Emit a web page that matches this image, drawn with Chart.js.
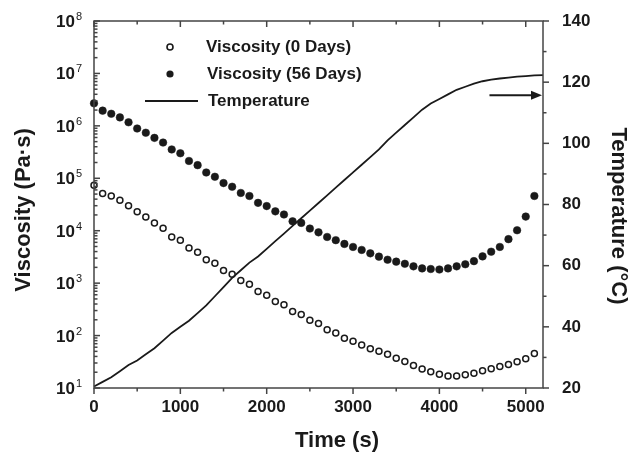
<!DOCTYPE html>
<html><head><meta charset="utf-8">
<script src="https://cdn.jsdelivr.net/npm/chart.js@4.4.0/dist/chart.umd.min.js"></script>
<style>html,body{margin:0;padding:0;background:#fff}</style>
</head><body>
<canvas id="c" width="632" height="460"></canvas>
<script>
const timeViscosity = [0,100,200,300,400,500,600,700,800,900,1000,1100,1200,1300,1400,1500,1600,1700,1800,1900,2000,2100,2200,2300,2400,2500,2600,2700,2800,2900,3000,3100,3200,3300,3400,3500,3600,3700,3800,3900,4000,4100,4200,4300,4400,4500,4600,4700,4800,4900,5000,5100];
const viscosity0Days = [7.4e4,5.1e4,4.6e4,3.8e4,3.0e4,2.3e4,1.82e4,1.41e4,1.12e4,7.6e3,6.6e3,4.7e3,3.9e3,2.8e3,2.4e3,1.74e3,1.48e3,1.12e3,955,692,589,447,389,288,251,195,170,129,112,89,78,66,56,50,44,37,32,27,23,20.4,18.2,17.0,17.0,17.8,19.1,21.4,23.4,25.7,28.2,31.6,36.3,45.7];
const viscosity56Days = [2.69e6,1.95e6,1.70e6,1.45e6,1.17e6,8.9e5,7.4e5,5.9e5,4.8e5,3.55e5,3.0e5,2.14e5,1.78e5,1.29e5,1.07e5,8.1e4,6.9e4,5.25e4,4.6e4,3.4e4,2.95e4,2.34e4,2.04e4,1.51e4,1.41e4,1.10e4,9.3e3,7.6e3,6.6e3,5.6e3,4.9e3,4.3e3,3.7e3,3.2e3,2.8e3,2.57e3,2.34e3,2.09e3,1.91e3,1.86e3,1.82e3,1.91e3,2.09e3,2.29e3,2.63e3,3.24e3,3.98e3,4.9e3,6.9e3,1.02e4,1.86e4,4.6e4];
const timeTemperature = [0,100,200,300,400,500,600,700,800,900,1000,1100,1200,1300,1400,1500,1600,1700,1800,1900,2000,2100,2200,2300,2400,2500,2600,2700,2800,2900,3000,3100,3200,3300,3400,3500,3600,3700,3800,3900,4000,4100,4200,4300,4400,4500,4600,4700,4800,4900,5000,5100,5200];
const temperature = [20.5,22,23.5,25.5,27.5,29,31,33,35.5,38,40,42,44.5,47,50,53,56,58.5,61,63,65.5,68,70.5,73,75.5,78,80.5,83,85.5,88,90.5,93,95.5,98,101,103.5,106,108.5,111,113,114.5,116,117.5,118.5,119.5,120.3,120.8,121.2,121.5,121.8,122,122.2,122.3];

const timeMajorTicks = [0,1000,2000,3000,4000,5000];
const timeMinorTicks = [500,1500,2500,3500,4500];
const viscosityDecades = [1,2,3,4,5,6,7,8];
const tempMajorTicks = [20,40,60,80,100,120,140];
const tempMinorTicks = [30,50,70,90,110,130];
const legendLabels = ['Viscosity (0 Days)','Viscosity (56 Days)','Temperature'];
const axisTitles = {x:'Time (s)', y:'Viscosity (Pa·s)', y2:'Temperature (°C)'};
const arrowFrom = 4580, arrowTo = 5200, arrowTemp = 115.7;

const INK = '#1a1a1a', AXIS = '#444';
const FONT = 'Liberation Sans, Arial, sans-serif';

const pts = (xs, ys) => xs.map((x,i)=>({x, y: ys[i]}));

const axesPlugin = {
  id:'axesPlugin',
  afterDraw(chart){
    const {ctx, chartArea:a, scales} = chart;
    const sx = scales.x, sy = scales.y, sy2 = scales.y2;
    ctx.save();
    ctx.strokeStyle = AXIS; ctx.lineWidth = 1.5;
    ctx.strokeRect(a.left, a.top, a.right-a.left, a.bottom-a.top);
    const line=(x1,y1,x2,y2)=>{ctx.beginPath();ctx.moveTo(x1,y1);ctx.lineTo(x2,y2);ctx.stroke();};
    timeMajorTicks.forEach(v=>{const p=sx.getPixelForValue(v); line(p,a.bottom,p,a.bottom+6); line(p,a.top,p,a.top+6);});
    timeMinorTicks.forEach(v=>{const p=sx.getPixelForValue(v); line(p,a.bottom,p,a.bottom+3.5); line(p,a.top,p,a.top+3.5);});
    viscosityDecades.forEach(e=>{
      const p=sy.getPixelForValue(Math.pow(10,e)); line(a.left,p,a.left+6,p);
      if(e<8){ for(let k=2;k<=9;k++){const q=sy.getPixelForValue(k*Math.pow(10,e)); line(a.left,q,a.left+3.5,q);} }
    });
    tempMajorTicks.forEach(v=>{const p=sy2.getPixelForValue(v); line(a.right,p,a.right+6,p);});
    tempMinorTicks.forEach(v=>{const p=sy2.getPixelForValue(v); line(a.right,p,a.right+3.5,p);});
    ctx.fillStyle = INK;
    viscosityDecades.forEach(e=>{
      const p=sy.getPixelForValue(Math.pow(10,e));
      ctx.font = 'bold 17px '+FONT; ctx.textAlign='right'; ctx.textBaseline='alphabetic';
      ctx.fillText('10', 75, p+6);
      ctx.font = '11px '+FONT; ctx.textAlign='left';
      ctx.fillText(String(e), 76, p-1);
    });
    ctx.font = 'bold 22px '+FONT; ctx.textAlign='center'; ctx.textBaseline='middle';
    ctx.fillText(axisTitles.x, 337, 441);
    ctx.save(); ctx.translate(24, 210); ctx.rotate(-Math.PI/2); ctx.fillText(axisTitles.y,0,0); ctx.restore();
    ctx.save(); ctx.translate(618, 216); ctx.rotate(Math.PI/2); ctx.fillText(axisTitles.y2,0,0); ctx.restore();
    ctx.font = 'bold 17px '+FONT; ctx.textAlign='left'; ctx.textBaseline='middle';
    ctx.lineWidth = 1.6; ctx.strokeStyle = INK;
    ctx.beginPath(); ctx.arc(170,47,3,0,Math.PI*2); ctx.stroke();
    ctx.fillText(legendLabels[0], 206, 47);
    ctx.beginPath(); ctx.arc(170,74,3.6,0,Math.PI*2); ctx.fill();
    ctx.fillText(legendLabels[1], 207, 74);
    ctx.lineWidth = 1.8; line(145,101,198,101);
    ctx.fillText(legendLabels[2], 208, 101);
    const ax1 = sx.getPixelForValue(arrowFrom), ax2 = sx.getPixelForValue(arrowTo), ay = sy2.getPixelForValue(arrowTemp);
    ctx.lineWidth = 2; line(ax1, ay, ax2-9, ay);
    ctx.beginPath(); ctx.moveTo(ax2-1, ay); ctx.lineTo(ax2-12, ay-4.5); ctx.lineTo(ax2-12, ay+4.5); ctx.closePath(); ctx.fill();
    ctx.restore();
  }
};

new Chart(document.getElementById('c'), {
  type:'scatter',
  data:{ datasets:[
    {label:legendLabels[2], data:pts(timeTemperature, temperature), yAxisID:'y2', showLine:true,
     borderColor:INK, borderWidth:1.8, pointRadius:0, tension:0, clip:false},
    {label:legendLabels[0], data:pts(timeViscosity, viscosity0Days), yAxisID:'y',
     pointStyle:'circle', pointRadius:3, borderWidth:1.5, borderColor:INK, backgroundColor:'#fff', clip:false},
    {label:legendLabels[1], data:pts(timeViscosity, viscosity56Days), yAxisID:'y',
     pointStyle:'circle', pointRadius:3.8, borderWidth:0.5, borderColor:INK, backgroundColor:INK, clip:false}
  ]},
  options:{
    responsive:false, animation:false, devicePixelRatio:1,
    layout:{padding:{top:21,left:0,right:0,bottom:0}},
    plugins:{legend:{display:false}, tooltip:{enabled:false}},
    scales:{
      x:{type:'linear', position:'bottom', min:0, max:5200,
         grid:{display:false, drawTicks:true, tickLength:9}, border:{display:false},
         afterBuildTicks(s){ s.ticks = timeMajorTicks.map(v=>({value:v})); },
         ticks:{autoSkip:false, maxRotation:0, padding:0, callback:(v)=>String(v),
                color:INK, font:{family:FONT, size:17, weight:'bold'}},
         afterFit(s){ s.height = 72; }},
      y:{type:'logarithmic', position:'left', min:10, max:1e8,
         grid:{display:false, drawTicks:false}, border:{display:false},
         ticks:{display:false},
         afterFit(s){ s.width = 94; }},
      y2:{type:'linear', position:'right', min:20, max:140,
         grid:{display:false, drawTicks:true, tickLength:19}, border:{display:false},
         afterBuildTicks(s){ s.ticks = tempMajorTicks.map(v=>({value:v})); },
         ticks:{padding:0, color:INK, font:{family:FONT, size:17, weight:'bold'}},
         afterFit(s){ s.width = 89; }}
    }
  },
  plugins:[axesPlugin]
});
</script>
</body></html>
